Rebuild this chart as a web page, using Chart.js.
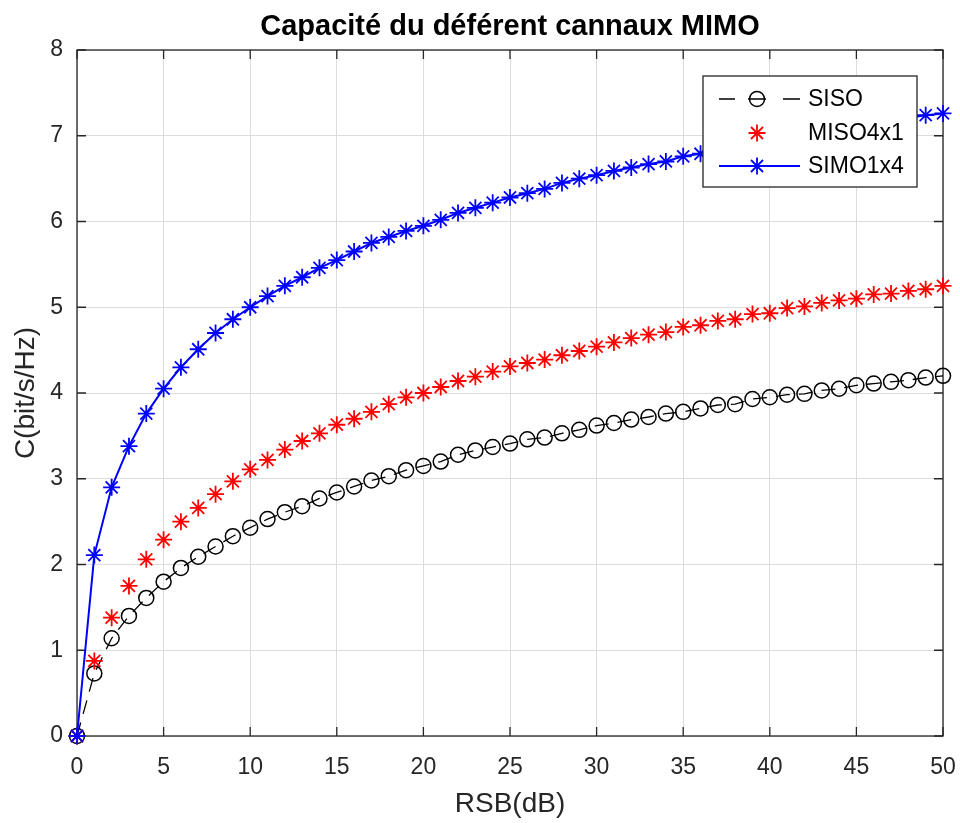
<!DOCTYPE html>
<html>
<head>
<meta charset="utf-8">
<title>Capacité MIMO</title>
<script src="https://cdn.jsdelivr.net/npm/chart.js@4.4.1/dist/chart.umd.min.js"></script>
<style>
  body { margin: 0; background: #fff; }
  #myChart { display: block; }
</style>
</head>
<body>
<canvas id="myChart" width="960" height="823"></canvas>
<script>
// data
var rsb = [0, 1, 2, 3, 4, 5, 6, 7, 8, 9, 10, 11, 12, 13, 14, 15, 16, 17, 18, 19, 20,
  21, 22, 23, 24, 25, 26, 27, 28, 29, 30, 31, 32, 33, 34, 35, 36, 37, 38, 39, 40,
  41, 42, 43, 44, 45, 46, 47, 48, 49, 50];

var siso = [0, 0.73, 1.14, 1.40, 1.61, 1.80, 1.96, 2.09, 2.21, 2.33, 2.43, 2.53, 2.61, 2.68, 2.77,
  2.84, 2.91, 2.98, 3.03, 3.10, 3.15, 3.20, 3.28, 3.33, 3.37, 3.41, 3.46, 3.48, 3.53, 3.57,
  3.62, 3.65, 3.69, 3.72, 3.76, 3.78, 3.82, 3.86, 3.87, 3.93, 3.95, 3.98, 3.99, 4.03, 4.05,
  4.09, 4.11, 4.13, 4.15, 4.18, 4.20];

var miso4x1 = [0, 0.875, 1.38, 1.75, 2.06, 2.29, 2.50, 2.66, 2.82, 2.97, 3.11, 3.22, 3.34, 3.44, 3.53,
  3.63, 3.70, 3.78, 3.87, 3.95, 4.00, 4.07, 4.14, 4.19, 4.25, 4.31, 4.35, 4.39, 4.44, 4.49,
  4.54, 4.59, 4.64, 4.68, 4.71, 4.77, 4.79, 4.84, 4.86, 4.92, 4.93, 4.99, 5.01, 5.05, 5.08,
  5.10, 5.15, 5.16, 5.19, 5.21, 5.25];

var simo1x4 = [0, 2.11, 2.90, 3.38, 3.76, 4.05, 4.30, 4.51, 4.70, 4.86, 5.00, 5.13, 5.25, 5.35, 5.46,
  5.55, 5.65, 5.75, 5.82, 5.89, 5.95, 6.02, 6.10, 6.16, 6.22, 6.28, 6.33, 6.38, 6.45, 6.50,
  6.54, 6.59, 6.63, 6.67, 6.70, 6.76, 6.79, 6.83, 6.87, 6.91, 6.94, 6.98, 7.01, 7.05, 7.08,
  7.11, 7.15, 7.18, 7.21, 7.24, 7.26];

var xTicks = [0, 5, 10, 15, 20, 25, 30, 35, 40, 45, 50];
var yTicks = [0, 1, 2, 3, 4, 5, 6, 7, 8];
var seriesNames = ['SISO', 'MISO4x1', 'SIMO1x4'];
var chartTitle = 'Capacité du déférent cannaux MIMO';

var axisColor = '#262626';
var fontFam = '"Liberation Sans", Arial, Helvetica, sans-serif';

function pairs(ys) {
  return rsb.map(function(x, i) { return { x: x, y: ys[i] }; });
}

Chart.defaults.font.family = fontFam;
Chart.defaults.color = axisColor;

// box round the plot + matlab style ticks pointing inward
var frameBox = {
  id: 'frameBox',
  beforeDatasetsDraw: function(chart) {
    var ctx = chart.ctx, a = chart.chartArea;
    var sx = chart.scales.x, sy = chart.scales.y;
    var len = 9;
    ctx.save();
    ctx.strokeStyle = axisColor;
    ctx.lineWidth = 1.3;
    ctx.strokeRect(a.left, a.top, a.right - a.left, a.bottom - a.top);
    ctx.beginPath();
    xTicks.forEach(function(v) {
      var px = sx.getPixelForValue(v);
      ctx.moveTo(px, a.bottom); ctx.lineTo(px, a.bottom - len);
      ctx.moveTo(px, a.top); ctx.lineTo(px, a.top + len);
    });
    yTicks.forEach(function(v) {
      var py = sy.getPixelForValue(v);
      ctx.moveTo(a.left, py); ctx.lineTo(a.left + len, py);
      ctx.moveTo(a.right, py); ctx.lineTo(a.right - len, py);
    });
    ctx.stroke();
    ctx.restore();
  }
};

// title over the plot and legend box in the upper right corner
var titleLegend = {
  id: 'titleLegend',
  afterDraw: function(chart) {
    var ctx = chart.ctx, a = chart.chartArea;
    ctx.save();
    ctx.fillStyle = '#000';
    ctx.font = 'bold 29px ' + fontFam;
    ctx.textAlign = 'center';
    ctx.textBaseline = 'middle';
    ctx.fillText(chartTitle, (a.left + a.right) / 2, 27);

    var bx = 703, by = 76, bw = 214, bh = 111;
    ctx.fillStyle = '#fff';
    ctx.fillRect(bx, by, bw, bh);
    ctx.strokeStyle = axisColor;
    ctx.lineWidth = 1.3;
    ctx.strokeRect(bx, by, bw, bh);

    var rows = [99, 133, 166];
    chart.data.datasets.forEach(function(ds, i) {
      var yy = rows[i];
      if (ds.showLine !== false) {
        ctx.save();
        ctx.strokeStyle = ds.borderColor;
        ctx.lineWidth = ds.borderWidth;
        ctx.beginPath();
        if (ds.borderDash) {
          // short dash each side of the marker
          ctx.moveTo(719, yy); ctx.lineTo(735, yy);
          ctx.moveTo(748, yy); ctx.lineTo(766, yy);
          ctx.moveTo(783, yy); ctx.lineTo(800, yy);
        } else {
          ctx.moveTo(719, yy); ctx.lineTo(800, yy);
        }
        ctx.stroke();
        ctx.restore();
      }
      ctx.strokeStyle = ds.pointBorderColor;
      ctx.fillStyle = 'rgba(0,0,0,0)';
      ctx.lineWidth = ds.pointBorderWidth;
      Chart.helpers.drawPoint(ctx, {
        pointStyle: ds.pointStyle,
        radius: ds.pointRadius,
        borderWidth: ds.pointBorderWidth,
        rotation: 0
      }, 757, yy);
      ctx.fillStyle = '#000';
      ctx.font = '23px ' + fontFam;
      ctx.textAlign = 'left';
      ctx.fillText(ds.label, 808, yy + 1);
    });
    ctx.restore();
  }
};

var ctx = document.getElementById('myChart').getContext('2d');
var chart = new Chart(ctx, {
  type: 'line',
  data: {
    datasets: [{
      label: seriesNames[0],
      data: pairs(siso),
      borderColor: '#000000',
      borderWidth: 1.3,
      borderDash: [14, 9],
      pointStyle: 'circle',
      pointRadius: 7.5,
      pointBorderWidth: 1.5,
      pointBorderColor: '#000000',
      pointBackgroundColor: 'rgba(0,0,0,0)',
      order: 3,
      clip: false
    }, {
      label: seriesNames[1],
      data: pairs(miso4x1),
      showLine: false,
      borderColor: '#ff0000',
      borderWidth: 0,
      pointStyle: 'star',
      pointRadius: 8.5,
      pointBorderWidth: 1.8,
      pointBorderColor: '#ff0000',
      pointBackgroundColor: '#ff0000',
      order: 2,
      clip: false
    }, {
      label: seriesNames[2],
      data: pairs(simo1x4),
      borderColor: '#0000ff',
      borderWidth: 2,
      pointStyle: 'star',
      pointRadius: 8.5,
      pointBorderWidth: 1.8,
      pointBorderColor: '#0000ff',
      pointBackgroundColor: '#0000ff',
      order: 1,
      clip: false
    }]
  },
  options: {
    responsive: false,
    animation: false,
    devicePixelRatio: 1,
    elements: { line: { tension: 0 } },
    layout: { padding: { top: 50, right: 17, left: 0, bottom: 0 } },
    plugins: {
      legend: { display: false },
      title: { display: false },
      tooltip: { enabled: false }
    },
    scales: {
      x: {
        type: 'linear',
        min: 0,
        max: 50,
        afterBuildTicks: function(s) { s.ticks = xTicks.map(function(v) { return { value: v }; }); },
        // fixed height, and no extra room for the last label
        afterFit: function(s) { s.height = 87; s.paddingLeft = 0; s.paddingRight = 0; },
        ticks: { font: { size: 23 }, color: axisColor, padding: 18, maxRotation: 0, autoSkip: false },
        grid: { color: '#dcdcdc', lineWidth: 1, drawTicks: false },
        border: { display: false },
        title: { display: true, text: 'RSB(dB)', font: { size: 28 }, color: axisColor, padding: { top: 0, bottom: 2 } }
      },
      y: {
        min: 0,
        max: 8,
        afterBuildTicks: function(s) { s.ticks = yTicks.map(function(v) { return { value: v }; }); },
        afterFit: function(s) { s.width = 77; s.paddingTop = 0; s.paddingBottom = 0; },
        ticks: { font: { size: 23 }, color: axisColor, padding: 14 },
        grid: { color: '#dcdcdc', lineWidth: 1, drawTicks: false },
        border: { display: false },
        title: { display: true, text: 'C(bit/s/Hz)', font: { size: 28 }, color: axisColor, padding: { top: 9, bottom: 0 } }
      }
    }
  },
  plugins: [frameBox, titleLegend]
});
</script>
</body>
</html>
